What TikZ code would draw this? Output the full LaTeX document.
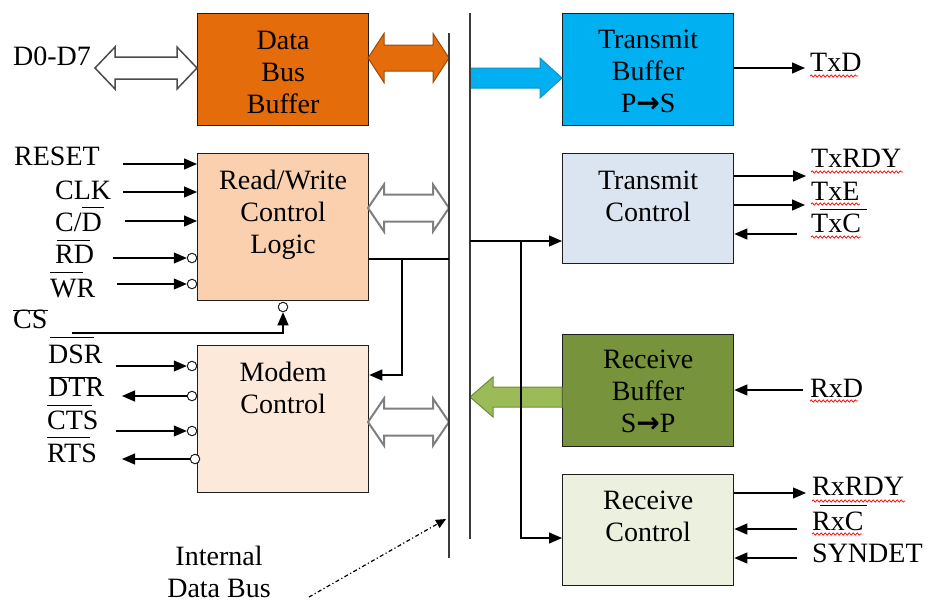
\documentclass[tikz,border=0pt]{standalone}
\usepackage{fontspec}
\setmainfont{Liberation Serif}
\newfontfamily\symfont{DejaVu Sans}
\usetikzlibrary{arrows.meta,decorations.pathmorphing,calc}

\definecolor{dbbfill}{HTML}{E46C0A}
\definecolor{dbbedge}{HTML}{9C4A06}
\definecolor{rwfill}{HTML}{FAD0AE}
\definecolor{mcfill}{HTML}{FDE9D9}
\definecolor{tbfill}{HTML}{00B0F0}
\definecolor{tbedge}{HTML}{1590C8}
\definecolor{tcfill}{HTML}{DBE5F1}
\definecolor{rbfill}{HTML}{77933C}
\definecolor{rbarrow}{HTML}{9BBB59}
\definecolor{rbedge}{HTML}{6E8A3A}
\definecolor{rcfill}{HTML}{EBF1DE}
\definecolor{edge}{HTML}{1E1E1E}
\definecolor{busgray}{HTML}{3A3A3A}
\definecolor{hollow}{HTML}{7F7F7F}

% overlined signal name: raise, shift, bar length, text
\newcommand{\ovl}[4]{\rlap{\hspace*{#2}\rule[#1]{#3}{1.3pt}}#4}
% strut fixing the first baseline of a block title
\newcommand{\firstline}{\rule{0pt}{21pt}}
\newcommand{\ptos}{{\symfont\bfseries\char"2192}}

% two-headed block arrow: style, x1, x2, y, shaft half, head half, head length
\newcommand{\twowayarrow}[7]{%
  \path[#1] (#2,#4) -- ({#2+#7},{#4-#6}) -- ({#2+#7},{#4-#5}) -- ({#3-#7},{#4-#5})
    -- ({#3-#7},{#4-#6}) -- (#3,#4) -- ({#3-#7},{#4+#6}) -- ({#3-#7},{#4+#5})
    -- ({#2+#7},{#4+#5}) -- ({#2+#7},{#4+#6}) -- cycle;}

\begin{document}
\begin{tikzpicture}[x=1pt,y=-1pt,
  every node/.style={inner sep=0pt, font=\fontsize{28}{32}\selectfont},
  blk/.style={draw=edge, line width=1.3pt, anchor=north west, minimum width=171pt},
  btitle/.style={anchor=north, align=center},
  lbl/.style={anchor=base west},
  sig/.style={line width=1.3pt, -{Triangle[length=13pt,width=11pt]}},
  conn/.style={line width=1.3pt},
  bus/.style={line width=2pt, draw=busgray},
  inv/.style={circle, draw=edge, line width=1pt, fill=white, minimum size=9.5pt},
  squig/.style={draw=red, line width=0.7pt, decorate,
    decoration={snake, amplitude=1.2pt, segment length=4pt}},
  hollowarrow/.style={fill=white, draw=hollow, line width=2pt, line join=miter},
]
\useasboundingbox (0,0) rectangle (929,606);

% ---------- functional blocks ----------
\node[blk, fill=dbbfill, minimum height=112pt] (dbb) at (197,13) {};
\node[blk, fill=rwfill,  minimum height=147pt] (rw)  at (197,153) {};
\node[blk, fill=mcfill,  minimum height=147pt] (mc)  at (197,345) {};
\node[blk, fill=tbfill,  minimum height=112pt] (tb)  at (562,13) {};
\node[blk, fill=tcfill,  minimum height=110pt] (tc)  at (562,153) {};
\node[blk, fill=rbfill,  minimum height=112pt] (rb)  at (562,334) {};
\node[blk, fill=rcfill,  minimum height=111pt] (rc)  at (562,474) {};

\node[btitle] (dbb-t) at ([yshift=-15pt]dbb.north) {\firstline Data\\Bus\\Buffer};
\node[btitle] (rw-t)  at ([yshift=-15pt]rw.north)  {\firstline Read/Write\\Control\\Logic};
\node[btitle] (mc-t)  at ([yshift=-15pt]mc.north)  {\firstline Modem\\Control};
\node[btitle] (tb-t)  at ([yshift=-14pt]tb.north)  {\firstline Transmit\\Buffer\\P\ptos S};
\node[btitle] (tc-t)  at ([yshift=-15pt]tc.north)  {\firstline Transmit\\Control};
\node[btitle] (rb-t)  at ([yshift=-13pt]rb.north)  {\firstline Receive\\Buffer\\S\ptos P};
\node[btitle] (rc-t)  at ([yshift=-14pt]rc.north)  {\firstline Receive\\Control};

% ---------- internal data bus ----------
\coordinate (busL-top) at (449,33);
\coordinate (busL-bot) at (449,558);
\coordinate (busR-top) at (470,13);
\coordinate (busR-bot) at (470,539);

% ---------- block arrows ----------
\node[lbl] (d07) at (13,65) {D0-D7};
\twowayarrow{fill=white, draw=black!70, line width=1.5pt, line join=miter}{95}{197}{68}{11}{21}{20}
\twowayarrow{fill=dbbfill, draw=dbbedge, line width=1pt, line join=miter}{368}{449}{58}{13}{24.5}{16}
\twowayarrow{hollowarrow}{368}{449}{208}{13.5}{23.5}{16}
\twowayarrow{hollowarrow}{368}{449}{422}{13.5}{23.5}{16}
\path[fill=tbfill, draw=tbedge, line width=1pt, line join=miter]
  (470,68) -- (540,68) -- (540,58) -- (562,78) -- (540,98) -- (540,88) -- (470,88) -- cycle;
\path[fill=rbarrow, draw=rbedge, line width=1pt, line join=miter]
  (562,387) -- (493,387) -- (493,377) -- (470,397) -- (493,417) -- (493,407) -- (562,407) -- cycle;

\draw[bus] (busL-top) -- (busL-bot);
\draw[bus] (busR-top) -- (busR-bot);

% ---------- CPU-side control inputs ----------
\node[lbl] (reset) at (14,165) {RESET};
\node[lbl] (clk)   at (55,199) {CLK};
\node[lbl] (cd)    at (55,231) {C/\ovl{23pt}{0pt}{22pt}{D}};
\node[lbl] (rd)    at (55,263) {\ovl{22pt}{2pt}{33pt}{RD}};
\node[lbl] (wr)    at (50,297) {\ovl{24pt}{0pt}{33pt}{WR}};
\node[lbl] (cs)    at (13,328) {\ovl{17pt}{0pt}{35pt}{CS}};

\node[inv] (rd-c) at (192,258) {};
\node[inv] (wr-c) at (192,284) {};
\node[inv] (cs-c) at (283,307) {};

\draw[sig] (123,164) -- (rw.west |- 0,164);
\draw[sig] (123,192) -- (rw.west |- 0,192);
\draw[sig] (125,221) -- (rw.west |- 0,221);
\draw[sig] (113,258) -- (rd-c.west);
\draw[sig] (117,284) -- (wr-c.west);
\draw[sig] (72,333) -| (cs-c.south);

% ---------- modem lines ----------
\node[lbl] (dsr) at (48,363) {\ovl{25pt}{2pt}{44pt}{DSR}};
\node[lbl] (dtr) at (48,396) {\ovl{18pt}{2pt}{47pt}{DTR}};
\node[lbl] (cts) at (47,429) {\ovl{23pt}{0pt}{45pt}{CTS}};
\node[lbl] (rts) at (47,462) {\ovl{24pt}{0pt}{43pt}{RTS}};

\node[inv] (dsr-c) at (192,366) {};
\node[inv] (dtr-c) at (192,396) {};
\node[inv] (cts-c) at (192,431) {};
\node[inv] (rts-c) at (195,459) {};

\draw[sig] (116,366) -- (dsr-c.west);
\draw[sig] (dtr-c.west) -- (122,396);
\draw[sig] (116,431) -- (cts-c.west);
\draw[sig] (rts-c.west) -- (122,459);

% ---------- internal connections ----------
\coordinate (rw-tap) at (402,259);
\coordinate (tx-tap) at (521,241);
\draw[conn] (rw.east |- 0,259) -- (busL-top |- 0,259);
\draw[sig] (rw-tap) |- (mc.east |- 0,375);
\draw[sig] (busR-top |- 0,241) -- (tc.west |- 0,241);
\draw[sig] (tx-tap) |- (rc.west |- 0,538);

% ---------- serial side ----------
\node[lbl] (txd)    at (810,71)  {TxD};
\node[lbl] (txrdy)  at (811,167) {TxRDY};
\node[lbl] (txe)    at (811,200) {TxE};
\node[lbl] (txc)    at (811,232) {\ovl{22pt}{9pt}{47pt}{TxC}};
\node[lbl] (rxd)    at (810,397) {RxD};
\node[lbl] (rxrdy)  at (812,495) {RxRDY};
\node[lbl] (rxc)    at (812,530) {\ovl{24pt}{8pt}{47pt}{RxC}};
\node[lbl] (syndet) at (812,562) {SYNDET};

\draw[sig] (tb.east |- 0,68)  -- (805,68);
\draw[sig] (tc.east |- 0,176) -- (806,176);
\draw[sig] (tc.east |- 0,205) -- (805,205);
\draw[sig] (797,234) -- (tc.east |- 0,234);
\draw[sig] (803,390) -- (rb.east |- 0,390);
\draw[sig] (rc.east |- 0,493) -- (806,493);
\draw[sig] (797,529) -- (rc.east |- 0,529);
\draw[sig] (797,558) -- (rc.east |- 0,558);

% spell-check marks under the signal names
\draw[squig] (810,76)  -- (858,76);
\draw[squig] (811,172) -- (903,172);
\draw[squig] (811,204) -- (860,204);
\draw[squig] (811,237) -- (861,237);
\draw[squig] (810,401) -- (858,401);
\draw[squig] (812,501) -- (905,501);
\draw[squig] (812,534) -- (862,534);

% ---------- bus caption ----------
\node[btitle] (idb) at (219,544) {\firstline Internal\\Data Bus};
\coordinate (idb-tail) at (309,597);
\coordinate (idb-head) at (446,519);
\draw[line width=1.2pt, dash pattern=on 4pt off 2.5pt on 1.2pt off 2.5pt,
  -{Triangle[length=10pt,width=9pt]}] (idb-tail) -- (idb-head);
\end{tikzpicture}
\end{document}
